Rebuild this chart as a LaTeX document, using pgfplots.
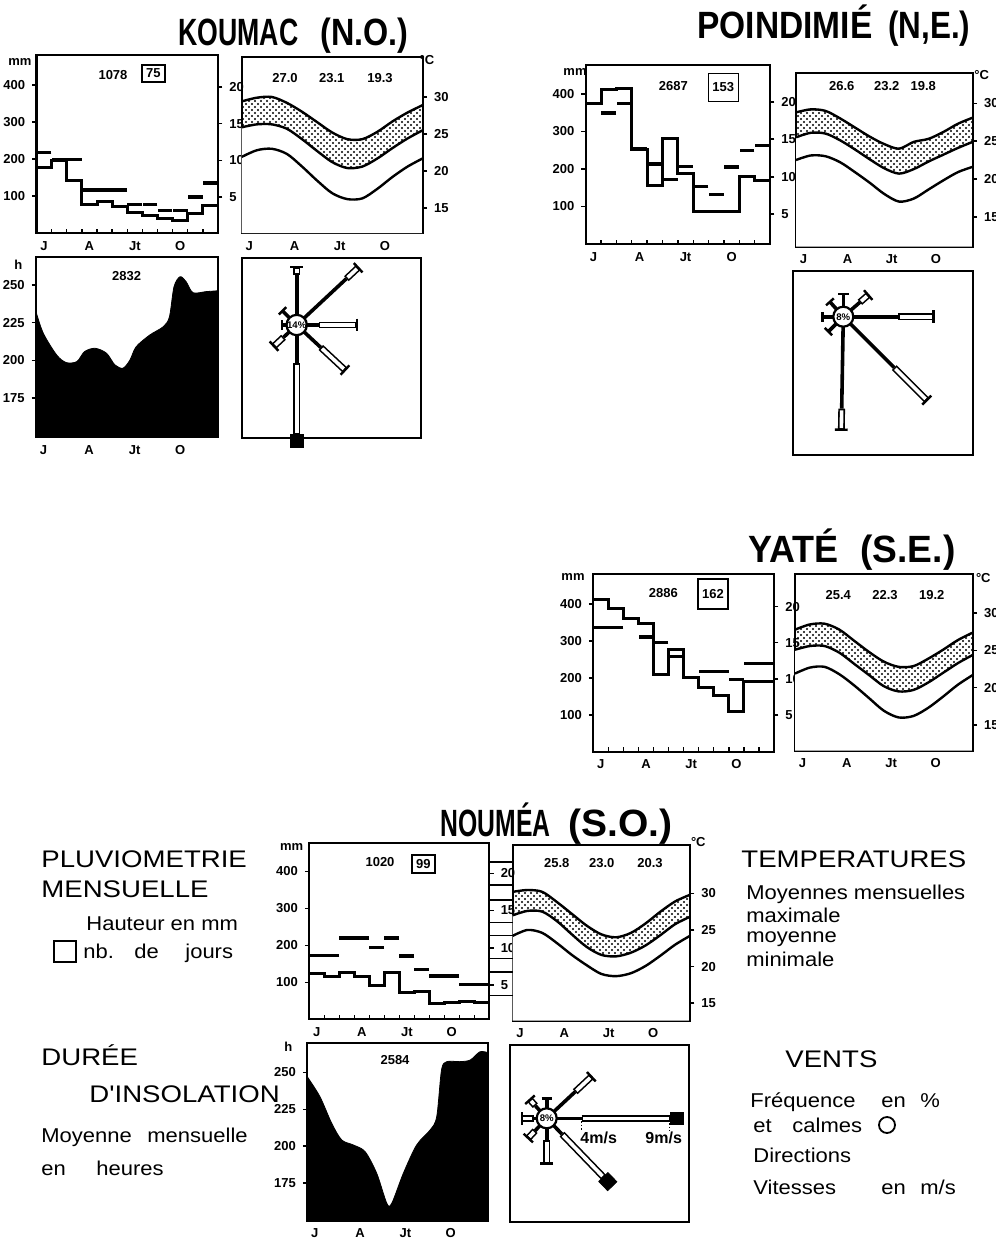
\documentclass[border=0pt]{standalone}
\usepackage{pgfplots}
\pgfplotsset{compat=1.18}
\usepackage{pgfplotstable}
\usetikzlibrary{patterns}
\usepackage{graphicx}
\usepackage{fontspec}
\setmainfont{Liberation Sans}
\newfontfamily\capsfam[FakeStretch=1.15]{Liberation Sans}
\newfontfamily\lowfam[FakeStretch=1.1]{Liberation Sans}

\newcommand\tkf{\fontsize{6.5}{7}\selectfont\bfseries}
\newcommand\ttl[2]{\resizebox{#1}{\height}{\fontsize{19}{19}\selectfont\bfseries #2}}
\newcommand\capsf{\capsfam\fontsize{12}{13}\selectfont}
\newcommand\lowf{\lowfam\fontsize{10}{11}\selectfont}

\pgfdeclarepatternformonly{bigdots}{\pgfqpoint{-1pt}{-1pt}}{\pgfqpoint{4pt}{4pt}}{\pgfqpoint{3pt}{3pt}}%
{\pgfpathcircle{\pgfqpoint{0pt}{0pt}}{0.55pt}\pgfpathcircle{\pgfqpoint{1.5pt}{1.5pt}}{0.55pt}\pgfusepath{fill}}

\pgfplotsset{
  every axis/.append style={scale only axis},
  /pgf/number format/assume math mode=true,
  monthx/.style={xmin=0, xmax=12, xtick={0.5,3.5,6.5,9.5}, xticklabels={J,A,Jt,O},
     major tick length=0pt, minor xtick={1,2,...,11}, minor tick length=2.2pt,
     tick align=inside, xtick pos=left, ytick=\empty,
     ticklabel style={font=\tkf}, xticklabel style={yshift=-0.5pt},
     axis line style={line width=1.1pt}, minor tick style={line width=0.7pt, black}},
  lefty/.style={xmin=0, xmax=12, hide x axis, axis y line*=left, tick align=outside,
     major tick length=2.2pt, ticklabel style={font=\tkf}, axis line style={line width=1.1pt},
     tick style={line width=0.8pt, black}},
  righty/.style={xmin=0, xmax=12, hide x axis, axis y line*=right, tick align=outside,
     major tick length=2.2pt, ticklabel style={font=\tkf}, axis line style={line width=1.1pt},
     tick style={line width=0.8pt, black}},
  windbox/.style={xtick=\empty, ytick=\empty, clip=false, axis line style={line width=1pt}},
  tcurve/.style={smooth, line width=1.2pt, black},
  raindash/.style={only marks, mark=-, mark size=3.7pt, mark options={line width=1.6pt}},
  rainline/.style={const plot, line width=1.5pt, black},
}

% wind arms: angle, start of the speed (hollow) part, end, [square centre]
\newcommand\harm[3]{%
  \addplot[data cs=polar, line width=1.8pt] coordinates {(#1,9) (#1,#2)};
  \addplot[data cs=polar, line width=3.4pt] coordinates {(#1,#2) (#1,#3)};
  \addplot[data cs=polar, white, line width=1.8pt, shorten <=0.8pt, shorten >=0.8pt] coordinates {(#1,#2) (#1,#3)};
  \addplot[data cs=polar, only marks, mark=|, mark size=3.2pt, mark options={rotate=#1, line width=1.2pt}] coordinates {(#1,#3)};
}
\newcommand\sarm[2]{%
  \addplot[data cs=polar, line width=1.8pt] coordinates {(#1,9) (#1,#2)};
  \addplot[data cs=polar, only marks, mark=|, mark size=2.6pt, mark options={rotate=#1, line width=1.2pt}] coordinates {(#1,#2)};
}
\newcommand\sqarm[4]{%
  \addplot[data cs=polar, line width=1.8pt] coordinates {(#1,9) (#1,#2)};
  \addplot[data cs=polar, line width=3.4pt] coordinates {(#1,#2) (#1,#3)};
  \addplot[data cs=polar, white, line width=1.8pt, shorten <=0.8pt, shorten >=0.8pt] coordinates {(#1,#2) (#1,#3)};
  \addplot[data cs=polar, only marks, mark=square*, mark size=3.2pt, mark options={rotate=#1}] coordinates {(#1,#4)};
}
\newcommand\calm[1]{%
  \node[circle, draw, fill=white, line width=1.1pt, minimum size=10pt, inner sep=0pt,
        font=\fontsize{4.8}{5}\selectfont\bfseries] at (axis cs:0,0) {#1};
}
% temperature panel body: dotted band between max and mean
\newcommand\temps[1]{%
  \addplot[pattern=bigdots, pattern color=black, draw=none, smooth] table[x=m,y=max]{#1} \closedcycle;
  \addplot[fill=white, draw=none, smooth] table[x=m,y=mean]{#1} \closedcycle;
  \addplot[tcurve] table[x=m,y=max]{#1};
  \addplot[tcurve] table[x=m,y=mean]{#1};
  \addplot[tcurve] table[x=m,y=min]{#1};
}

% ---------------- data ----------------
\pgfplotstableread{
m mm
0 176.6
1 195
2 143
3 75.7
4 84.7
5 71
6 55
7 48.6
8 39.6
9 33.3
10 53
11 74
12 74
}\kR
\pgfplotstableread{
m d
0.5 11.1
1.5 10.1
2.5 10.1
3.5 5.95
4.5 5.95
5.5 5.95
6.5 4.0
7.5 4.0
8.5 3.2
9.5 3.2
10.5 5.0
11.5 6.9
}\kD
\pgfplotstableread{
m max mean min
0 29.4 25.9 21.9
1 29.9 26.3 22.8
2 30.0 26.3 23.0
3 29.2 25.7 22.3
4 28.0 24.3 20.6
5 26.6 22.7 18.7
6 25.2 21.2 17.0
7 24.3 20.4 16.2
8 24.3 20.6 16.3
9 25.3 21.7 17.6
10 26.7 23.1 19.2
11 27.9 24.4 20.6
12 28.9 25.5 21.7
}\kT
\pgfplotstableread{
m h
0 232.3
0.48 218
1.36 203.6
2.0 198.5
2.7 199.2
3.2 205.8
3.9 208
4.65 204.7
5.2 197
5.74 194.8
6.2 200.3
6.6 209
7.5 216.8
8.4 222.4
8.8 229
9.1 248.9
9.5 255.5
9.9 252.2
10.35 244.9
11.2 245.6
12 246.2
}\kS
\pgfplotstableread{
m mm
0 375
1 410.7
2 415
3 252.4
4 154.7
5 280
6 188.4
7 86
8 86
9 86
10 179.6
11 168.9
12 168.9
}\pR
\pgfplotstableread{
m d
0.5 19.8
1.5 18.5
2.5 19.8
3.5 13.8
4.5 11.7
5.5 9.6
6.5 11.4
7.5 8.7
8.5 7.6
9.5 11.3
10.5 13.5
11.5 14.2
}\pD
\pgfplotstableread{
m max mean min
0 28.8 25.5 22.5
1 29.2 26.1 23.1
2 29.0 26.0 23.0
3 28.0 25.1 22.2
4 26.8 23.9 20.9
5 25.6 22.6 19.5
6 24.6 21.4 18.0
7 24.0 20.7 17.0
8 24.9 21.3 17.4
9 25.3 22.3 18.6
10 26.2 23.2 19.8
11 27.3 24.1 20.9
12 28.1 24.9 21.6
}\pT
\pgfplotstableread{
m mm
0 413
1 388.6
2 361.5
3 348
4 208
5 277.5
6 201.6
7 174.5
8 151
9 108.4
10 189.7
11 189.7
12 189.7
}\yR
\pgfplotstableread{
m d
0.5 17.1
1.5 17.1
2.5 18.4
3.5 15.8
4.5 15.0
5.5 13.1
6.5 10.2
7.5 11.0
8.5 11.0
9.5 9.9
10.5 12.1
11.5 12.1
}\yD
\pgfplotstableread{
m max mean min
0 27.8 25.1 21.9
1 28.5 25.6 22.7
2 28.6 25.6 22.8
3 27.8 24.7 21.8
4 26.3 23.2 20.3
5 24.8 21.7 18.6
6 23.5 20.2 16.9
7 22.8 19.5 16.0
8 22.9 19.7 16.2
9 23.9 20.7 17.3
10 25.1 22.0 18.8
11 26.4 23.3 20.4
12 27.4 24.4 21.7
}\yT
\pgfplotstableread{
m mm
0 124
1 115
2 126
3 115
4 92.7
5 126
6 72
7 76.5
8 43
9 46
10 49.5
11 45
12 45
}\nR
\pgfplotstableread{
m d
0.5 9.0
1.5 9.0
2.5 11.3
3.5 11.3
4.5 10.05
5.5 11.3
6.5 8.9
7.5 7.1
8.5 6.2
9.5 6.2
10.5 5.1
11.5 5.1
}\nD
\pgfplotstableread{
m max mean min
0 30.2 27.0 24.2
1 30.45 27.6 25.0
2 30.2 27.5 24.6
3 28.8 26.2 23.2
4 27.2 24.4 21.6
5 25.6 22.7 20.2
6 24.4 21.6 19.0
7 24.0 21.4 18.7
8 24.6 21.9 19.1
9 25.9 22.9 20.1
10 27.5 24.3 21.5
11 28.9 25.8 23.0
12 29.8 26.8 24.2
}\nT
\pgfplotstableread{
m h
0 247
0.84 233.5
1.62 215.5
2.28 204.3
3.05 200.9
3.83 196.4
4.6 181.8
5.27 161.5
5.6 161.5
6.37 181.8
7.25 200.9
8.14 211
8.58 220
8.9 251.6
9.25 257.2
10.1 257.2
10.8 258.3
11.45 263.9
12 263.2
}\nS

\begin{document}
\begin{tikzpicture}
\useasboundingbox (0,0) rectangle (498pt,-619pt);

% ================= KOUMAC =================
\begin{axis}[anchor=south west, at={(18.25pt,-116.5pt)}, width=90.75pt, height=89pt, monthx, ymin=0, ymax=481]
\addplot[rainline] table[x=m,y=mm]{\kR};
\end{axis}
\begin{axis}[anchor=south west, at={(18.25pt,-116.5pt)}, width=90.75pt, height=89pt, lefty, ymin=0, ymax=481, ytick={100,200,300,400}]
\end{axis}
\begin{axis}[anchor=south west, at={(18.25pt,-116.5pt)}, width=90.75pt, height=89pt, righty, ymin=0.08, ymax=24.37, ytick={5,10,15,20}]
\addplot[raindash] table[x=m,y=d]{\kD};
\end{axis}

\begin{axis}[anchor=south west, at={(120.85pt,-116.5pt)}, width=90.5pt, height=88pt, monthx, ymin=11.62, ymax=35.4]
\temps{\kT}
\end{axis}
\begin{axis}[anchor=south west, at={(120.85pt,-116.5pt)}, width=90.5pt, height=88pt, righty, ymin=11.62, ymax=35.4, ytick={15,20,25,30}]
\end{axis}

\begin{axis}[anchor=south west, at={(18pt,-218.5pt)}, width=91pt, height=90pt, monthx, ymin=149.1, ymax=268.6]
\addplot[fill=black, draw=black, smooth] table[x=m,y=h]{\kS} \closedcycle;
\end{axis}
\begin{axis}[anchor=south west, at={(18pt,-218.5pt)}, width=91pt, height=90pt, lefty, ymin=149.1, ymax=268.6, ytick={175,200,225,250}]
\end{axis}

\begin{axis}[anchor=south west, at={(120.85pt,-218.85pt)}, width=89.5pt, height=89.85pt, windbox, xmin=-55, xmax=124, ymin=-112.7, ymax=67]
\harm{90}{50}{58}
\harm{43}{68}{84}
\harm{0}{22}{60}
\harm{-43}{33}{66}
\sqarm{-90}{38}{110}{116}
\harm{-137}{18}{31}
\sarm{135}{20}
\sarm{180}{15}
\calm{14\%}
\end{axis}

% ================= POINDIMIE =================
\begin{axis}[anchor=south west, at={(292.85pt,-122pt)}, width=92.15pt, height=89.5pt, monthx, ymin=0, ymax=477.3]
\addplot[rainline] table[x=m,y=mm]{\pR};
\end{axis}
\begin{axis}[anchor=south west, at={(292.85pt,-122pt)}, width=92.15pt, height=89.5pt, lefty, ymin=0, ymax=477.3, ytick={100,200,300,400}]
\end{axis}
\begin{axis}[anchor=south west, at={(292.85pt,-122pt)}, width=92.15pt, height=89.5pt, righty, ymin=1.03, ymax=24.9, ytick={5,10,15,20}]
\addplot[raindash] table[x=m,y=d]{\pD};
\end{axis}

\begin{axis}[anchor=south west, at={(398pt,-123.35pt)}, width=88.35pt, height=87pt, monthx, ymin=11.03, ymax=34.05]
\temps{\pT}
\end{axis}
\begin{axis}[anchor=south west, at={(398pt,-123.35pt)}, width=88.35pt, height=87pt, righty, ymin=11.03, ymax=34.05, ytick={15,20,25,30}]
\end{axis}

\begin{axis}[anchor=south west, at={(396.35pt,-227.5pt)}, width=90pt, height=92pt, windbox, xmin=-50.6, xmax=129.4, ymin=-138.3, ymax=45.7]
\harm{0}{55}{90}
\harm{-45}{72}{118}
\harm{-91}{92}{113}
\sarm{90}{23}
\harm{41}{22}{33}
\sarm{132}{20}
\sarm{180}{21}
\sarm{-135}{21}
\calm{8\%}
\end{axis}

% ================= YATE =================
\begin{axis}[anchor=south west, at={(296.65pt,-375.85pt)}, width=90.35pt, height=88.85pt, monthx, ymin=0, ymax=481.6]
\addplot[rainline] table[x=m,y=mm]{\yR};
\end{axis}
\begin{axis}[anchor=south west, at={(296.65pt,-375.85pt)}, width=90.35pt, height=88.85pt, lefty, ymin=0, ymax=481.6, ytick={100,200,300,400}]
\end{axis}
\begin{axis}[anchor=south west, at={(296.65pt,-375.85pt)}, width=90.35pt, height=88.85pt, righty, ymin=-0.08, ymax=24.5, ytick={5,10,15,20}]
\addplot[raindash] table[x=m,y=d]{\yD};
\end{axis}

\begin{axis}[anchor=south west, at={(397.5pt,-375.35pt)}, width=88.85pt, height=88.35pt, monthx, ymin=11.53, ymax=35.28]
\temps{\yT}
\end{axis}
\begin{axis}[anchor=south west, at={(397.5pt,-375.35pt)}, width=88.85pt, height=88.35pt, righty, ymin=11.53, ymax=35.28, ytick={15,20,25,30}]
\end{axis}

% ================= NOUMEA =================
\begin{axis}[anchor=south west, at={(154.65pt,-509.65pt)}, width=90pt, height=88pt, monthx, ymin=0, ymax=475.7]
\addplot[rainline] table[x=m,y=mm]{\nR};
\end{axis}
\begin{axis}[anchor=south west, at={(154.65pt,-509.65pt)}, width=90pt, height=88pt, lefty, ymin=0, ymax=475.7, ytick={100,200,300,400}]
\end{axis}
\begin{axis}[anchor=south west, at={(154.65pt,-509.65pt)}, width=90pt, height=88pt, righty, ymin=0.38, ymax=24.03, ytick={5,10,15,20}]
\addplot[raindash] table[x=m,y=d]{\nD};
\end{axis}

\begin{axis}[anchor=south west, at={(256.35pt,-510.35pt)}, width=88.65pt, height=87.85pt, monthx, ymin=12.62, ymax=36.59]
\temps{\nT}
\end{axis}
\begin{axis}[anchor=south west, at={(256.35pt,-510.35pt)}, width=88.65pt, height=87.85pt, righty, ymin=12.62, ymax=36.59, ytick={15,20,25,30}]
\end{axis}

\begin{axis}[anchor=south west, at={(153.65pt,-610.35pt)}, width=90.5pt, height=88.7pt, monthx, ymin=149.7, ymax=269.6]
\addplot[fill=black, draw=black, smooth] table[x=m,y=h]{\nS} \closedcycle;
\end{axis}
\begin{axis}[anchor=south west, at={(153.65pt,-610.35pt)}, width=90.5pt, height=88.7pt, lefty, ymin=149.7, ymax=269.6, ytick={175,200,225,250}]
\end{axis}

\begin{axis}[anchor=south west, at={(255pt,-610.85pt)}, width=89.65pt, height=88.35pt, windbox, xmin=-36.7, xmax=142.6, ymin=-103.4, ymax=73.3]
\sqarm{0}{35}{124}{130}
\sqarm{-46}{22}{82}{88}
\harm{43}{39}{61}
\harm{-90}{22}{45}
\sarm{90}{20}
\harm{132}{17}{25}
\harm{180}{13}{25}
\harm{-133}{17}{27}
\addplot[densely dotted, line width=0.7pt] coordinates {(35,-3) (35,-13)};
\addplot[densely dotted, line width=0.7pt] coordinates {(123,-5) (123,-13)};
\calm{8\%}
\node[font=\fontsize{8}{8}\selectfont\bfseries] at (axis cs:52,-20) {4m/s};
\node[font=\fontsize{8}{8}\selectfont\bfseries] at (axis cs:117,-20) {9m/s};
\end{axis}

% ================= texts =================
\begin{scope}[x=0.5pt, y=-0.5pt]
\node[anchor=base west, inner sep=0pt] at (178,45) {\ttl{60pt}{KOUMAC}};
\node[anchor=base west, inner sep=0pt] at (320,45) {\ttl{44pt}{(N.O.)}};
\node[anchor=base west, inner sep=0pt] at (697,38) {\ttl{87.5pt}{POINDIMIÉ}};
\node[anchor=base west, inner sep=0pt] at (888,38) {\ttl{41pt}{(N,E.)}};
\node[anchor=base west, inner sep=0pt] at (748,562) {\ttl{45pt}{YATÉ}};
\node[anchor=base west, inner sep=0pt] at (860,562) {\ttl{47.5pt}{(S.E.)}};
\node[anchor=base west, inner sep=0pt] at (440,836) {\ttl{55pt}{NOUMÉA}};
\node[anchor=base west, inner sep=0pt] at (568,836) {\ttl{52pt}{(S.O.)}};

\begin{scope}[every node/.style={font=\tkf, inner sep=0pt}]
\node at (20,62) {mm};
\node at (113,75) {1078};
\node[draw, line width=0.8pt, minimum width=11.5pt, minimum height=8.5pt] at (153.3,73.3) {75};
\node at (285,77.7) {27.0};
\node at (331.7,77.7) {23.1};
\node at (380,77.7) {19.3};
\node at (427,60) {°C};
\node at (18.3,265) {h};
\node at (126.7,276) {2832};

\node at (575,71.7) {mm};
\node at (673.3,86) {2687};
\node[draw, line width=0.8pt, minimum width=15pt, minimum height=14pt] at (723.3,87.5) {153};
\node at (841.7,86) {26.6};
\node at (886.7,86) {23.2};
\node at (923.3,86) {19.8};
\node at (981.7,75) {°C};

\node at (573,576.7) {mm};
\node at (663.3,593.3) {2886};
\node[draw, line width=0.8pt, minimum width=15pt, minimum height=15pt] at (713,594) {162};
\node at (838.3,595) {25.4};
\node at (885,595) {22.3};
\node at (931.7,595) {19.2};
\node at (983.3,578) {°C};

\node at (291.7,846.7) {mm};
\node at (380,861.7) {1020};
\node[draw, line width=0.8pt, minimum width=11.5pt, minimum height=9pt] at (423.3,864) {99};
\node at (556.7,863.3) {25.8};
\node at (601.7,863.3) {23.0};
\node at (650,863.3) {20.3};
\node at (698.3,841.7) {°C};
\node at (288.3,1046.7) {h};
\node at (395,1060) {2584};
\end{scope}

\draw[line width=0.9pt] (489,862) -- (512.7,862) (489,885) -- (512.7,885)
  (489,900) -- (512.7,900) (489,922.5) -- (512.7,922.5)
  (489,935.5) -- (512.7,935.5) (489,958.5) -- (512.7,958.5)
  (489,972) -- (512.7,972) (489,995.5) -- (512.7,995.5);

\begin{scope}[every node/.style={anchor=base west, inner sep=0pt}]
\node at (41,867) {\capsf PLUVIOMETRIE};
\node at (41,897) {\capsf MENSUELLE};
\node at (86,930) {\lowf Hauteur en mm};
\node at (83,958) {\lowf nb.};
\node at (134,958) {\lowf de};
\node at (185,958) {\lowf jours};
\node at (41,1065) {\capsf DURÉE};
\node at (89,1102) {\capsf D'INSOLATION};
\node at (41,1142) {\lowf Moyenne};
\node at (147,1142) {\lowf mensuelle};
\node at (41,1175) {\lowf en};
\node at (96,1175) {\lowf heures};

\node at (741,867) {\capsf TEMPERATURES};
\node at (746,899) {\lowf Moyennes mensuelles};
\node at (746,922) {\lowf maximale};
\node at (746,942) {\lowf moyenne};
\node at (746,966) {\lowf minimale};
\node at (785,1067) {\capsf VENTS};
\node at (750,1107) {\lowf Fréquence};
\node at (881,1107) {\lowf en};
\node at (920,1107) {\lowf \%};
\node at (753,1132) {\lowf et};
\node at (792,1132) {\lowf calmes};
\node at (753,1162) {\lowf Directions};
\node at (753,1194) {\lowf Vitesses};
\node at (881,1194) {\lowf en};
\node at (920,1194) {\lowf m/s};
\end{scope}
\draw[line width=0.9pt] (54,941) rectangle (76,962);
\draw[line width=0.9pt] (887,1125) circle[radius=4pt];
\end{scope}
\end{tikzpicture}
\end{document}
